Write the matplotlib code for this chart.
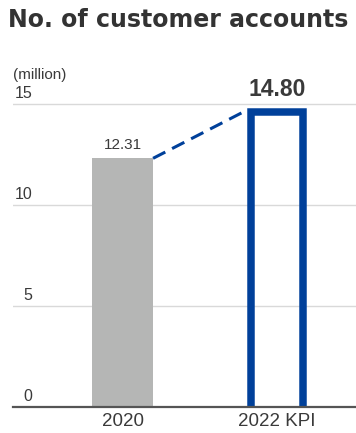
import matplotlib
matplotlib.use("Agg")
import matplotlib.pyplot as plt
from matplotlib.transforms import ScaledTranslation

categories = ["2020", "2022 KPI"]
values = [12.31, 14.80]
value_labels = ["12.31", "14.80"]
yticks = [0, 5, 10, 15]
ytick_labels = ["0", "5", "10", "15"]

GRAY = "#b5b6b5"
BLUE = "#00409a"
TEXT = "#3a3a3a"

plt.rcParams["font.family"] = ["Liberation Sans", "DejaVu Sans"]

fig = plt.figure(figsize=(3.56, 4.33), dpi=100)
ax = fig.add_axes([13/356, 26/433, 1 - 13/356, (407 - 83.8)/433])

x = [0, 1]
bw = 0.395
ax.bar(x[0], values[0], width=bw, color=GRAY, zorder=2)

# KPI bar: outlined, open at bottom, stroke kept inside the bar extent
kw = 0.388
stroke_px = 7.5
ppx = 154.5  # px per x unit
ppy = 20.2   # px per y unit
ix = kw/2 - (stroke_px/2)/ppx
iy = values[1] - (stroke_px/2)/ppy
ax.plot([x[1]-ix, x[1]-ix, x[1]+ix, x[1]+ix], [-1, iy, iy, -1],
        color=BLUE, lw=stroke_px*72/100, solid_joinstyle="miter", zorder=3)

# dashed connector
ax.plot([x[0] + bw/2, x[1] - kw/2], [values[0], values[1] - 0.1],
        color=BLUE, lw=2.2, dashes=(4.5, 2.5), zorder=3, clip_on=False)

ax.text(x[0], values[0] + 0.3, value_labels[0], ha="center", va="bottom",
        fontsize=11, color=TEXT)
ax.text(x[1], values[1] + 0.35, value_labels[1], ha="center", va="bottom",
        fontsize=16.5, fontweight="bold", color=TEXT)

ax.set_xlim(-0.709, 1.511)
ax.set_ylim(0, 16)
ax.set_xticks(x)
ax.set_xticklabels(categories, fontsize=13.5, color=TEXT)
ax.set_yticks(yticks)
ax.set_yticklabels(ytick_labels, fontsize=11.5, color=TEXT)
ax.tick_params(axis="x", length=0, pad=4)
ax.tick_params(axis="y", length=0, pad=-19*72/100)
up = ScaledTranslation(0, 3/100, fig.dpi_scale_trans)
for lbl in ax.get_yticklabels():
    lbl.set_verticalalignment("bottom")
    lbl.set_horizontalalignment("right")
    lbl.set_transform(lbl.get_transform() + up)

ax.grid(axis="y", color="#d9d9d9", lw=1, zorder=0)
ax.set_axisbelow(True)
for s in ["top", "right", "left"]:
    ax.spines[s].set_visible(False)
ax.spines["bottom"].set_color("#555555")
ax.spines["bottom"].set_linewidth(1.6)
ax.spines["bottom"].set_zorder(4)

fig.text(13/356, 1 - 75/433, "(million)", ha="left", va="center",
         fontsize=11, color=TEXT)
fig.text(0.5, 1 - 20/433, "No. of customer accounts", ha="center", va="center",
         fontsize=17, fontweight="bold", color="#333333", family="DejaVu Sans")

fig.savefig("out.png", dpi=100)
